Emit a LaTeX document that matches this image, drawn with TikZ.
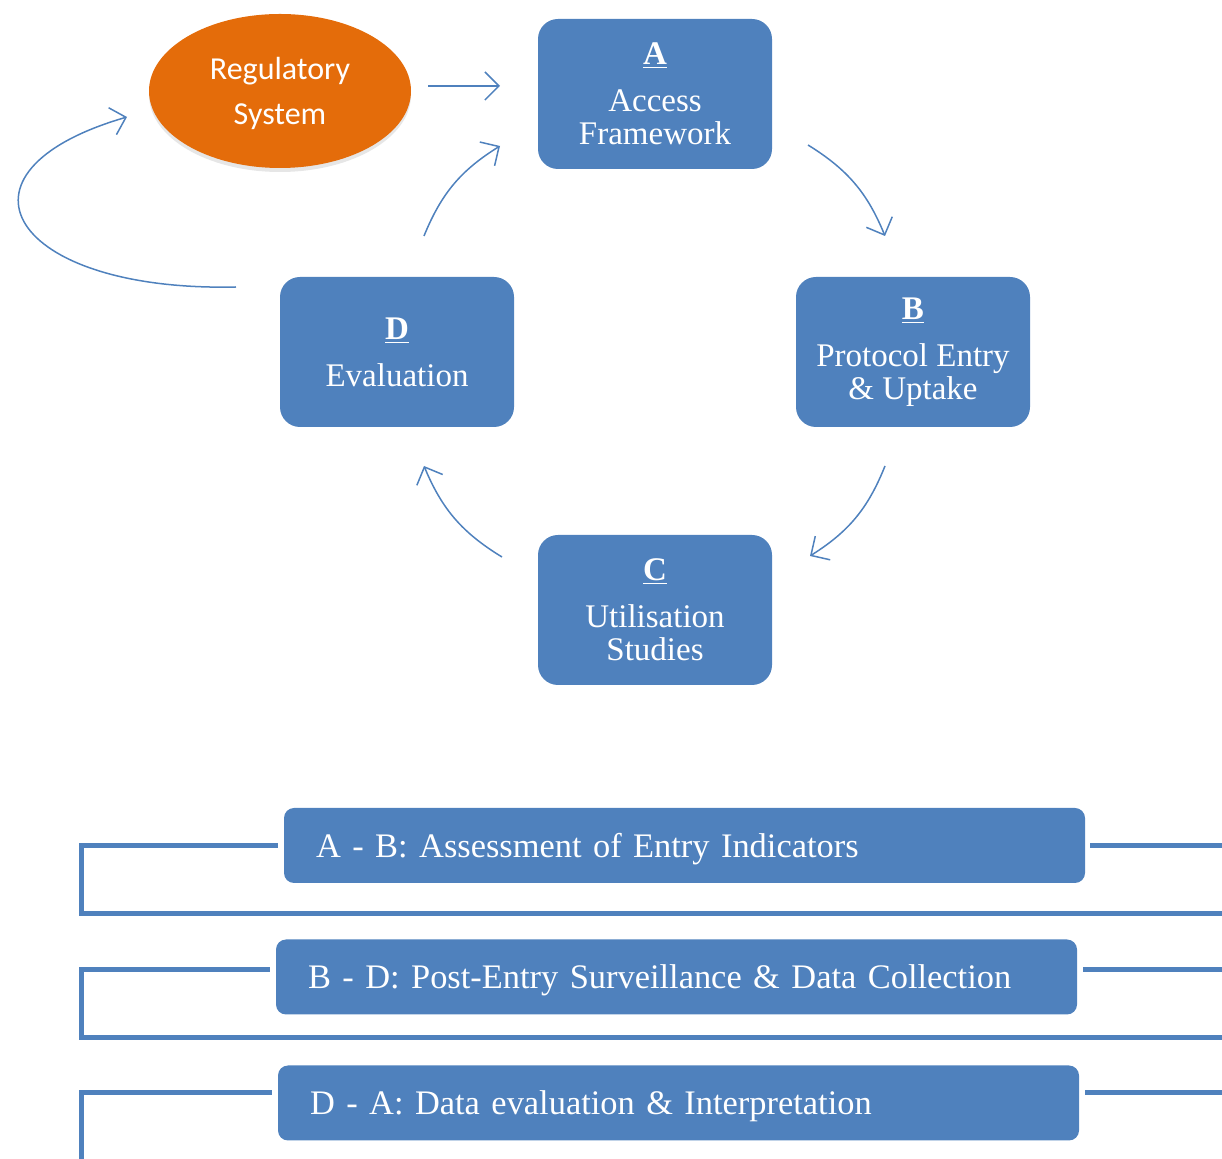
\documentclass[tikz,border=0pt]{standalone}
\usepackage{fontspec}
\setmainfont{Liberation Serif}
\newfontfamily\calibrifont{Carlito}
\usetikzlibrary{arrows.meta}
\usetikzlibrary{shapes.geometric}
\usetikzlibrary{shadows}
\usetikzlibrary{positioning}

\definecolor{boxblue}{HTML}{4F81BD}
\definecolor{regorange}{HTML}{E46C0A}

\tikzset{
  stage/.style={fill=boxblue, rounded corners=10pt, minimum width=117pt, minimum height=75pt,
    text=white, align=center, font=\fontsize{16.5}{16.5}\selectfont},
  phase/.style={fill=boxblue, rounded corners=5pt, minimum width=400.5pt, minimum height=37.5pt,
    text=white, text width=368.5pt, inner xsep=16pt, align=left, text depth=0pt,
    font=\fontsize{17.2}{20}\selectfont},
  flow/.style={draw=boxblue, line width=0.75pt, -{Straight Barb[length=7pt,width=14pt]}},
  rail/.style={draw=boxblue, line width=2.5pt},
}

\begin{document}
\begin{tikzpicture}[x=0.5pt,y=-0.5pt]
  \useasboundingbox (0,0) rectangle (1222,1159);

  % cycle
  \node[ellipse, fill=regorange, minimum width=131pt, minimum height=77pt, text=white, align=center,
    text depth=0pt, font=\calibrifont\fontsize{16}{22.5}\selectfont,
    drop shadow={shadow xshift=0pt, shadow yshift=-2pt, opacity=0.2}] (reg) at (280,91) {Regulatory\\System};
  \node[stage] (A) at (655,94) {\underline{\textbf{A}}\\[7pt]Access\\Framework};
  \node[stage] (B) at (913,352) {\underline{\textbf{B}}\\[7pt]Protocol Entry\\\& Uptake};
  \node[stage] (C) at (655,610) {\underline{\textbf{C}}\\[7pt]Utilisation\\Studies};
  \node[stage] (D) at (397,352) {\underline{\textbf{D}}\\[7pt]Evaluation};

  \coordinate (regout) at (428,86);
  \coordinate (ain) at (500,86);
  \coordinate (aout) at (808,145);
  \coordinate (bin) at (885,236);
  \coordinate (bout) at (885,466);
  \coordinate (cin) at (810,556);
  \coordinate (cout) at (502,557);
  \coordinate (din) at (424,466);
  \coordinate (dout) at (424,236);
  \coordinate (aback) at (500,146);
  \coordinate (dback) at (236,287);
  \coordinate (regin) at (127,117);

  \draw[flow] (regout) -- (ain);
  \draw[flow] (aout) to[bend left=18] (bin);
  \draw[flow] (bout) to[bend left=18] (cin);
  \draw[flow] (cout) to[bend left=18] (din);
  \draw[flow] (dout) to[bend left=18] (aback);
  \draw[flow] (dback) .. controls (10,292) and (-62,172) .. (regin);

  % phases
  \node[phase] (ab) at (684.5,845.5) {A - B: Assessment of Entry Indicators};
  \node[phase] (bd) at (676.5,977) {B - D: Post-Entry Surveillance \& Data Collection};
  \node[phase] (da) at (678.5,1103) {D - A: Data evaluation \& Interpretation};

  \draw[rail] ([xshift=-3pt]ab.west) -| ++(-196,68.5) -- ++(1160,0);
  \draw[rail] ([xshift=2.5pt]ab.east) -- ++(150,0);
  \draw[rail] ([xshift=-3pt,yshift=3.75pt]bd.west) -| ++(-188,68.5) -- ++(1160,0);
  \draw[rail] ([xshift=3pt,yshift=3.75pt]bd.east) -- ++(150,0);
  \draw[rail] ([xshift=-3pt,yshift=5pt]da.west) -| ++(-190,80);
  \draw[rail] ([xshift=3pt,yshift=5pt]da.east) -- ++(150,0);
\end{tikzpicture}
\end{document}
